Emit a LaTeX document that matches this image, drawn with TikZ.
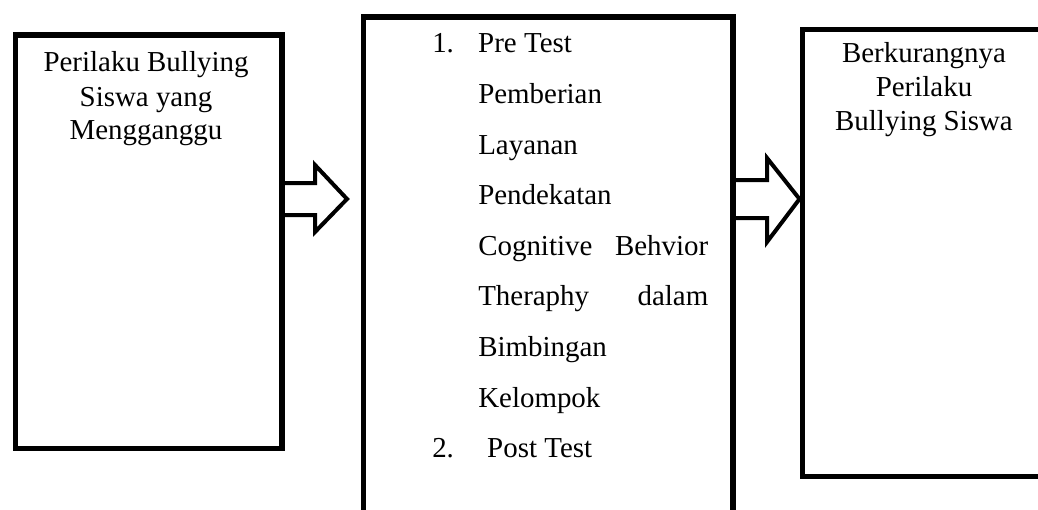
\documentclass[tikz,border=0pt]{standalone}
\usepackage{fontspec}
\setmainfont{Liberation Serif}
\usepackage{tikz}
\usetikzlibrary{calc}
\tikzset{
  kotak/.style={draw,line width=4.1pt,inner sep=0pt,anchor=north west},
  panah/.style={draw,line width=3pt,line join=miter},
  teks/.style={inner sep=0pt,align=flush center,anchor=base,font=\fontsize{21.7}{25.5}\selectfont},
  daftar/.style={inner sep=0pt,align=flush left,text width=207pt,anchor=base west,font=\fontsize{21.7}{37.95}\selectfont}
}
\begin{document}
\begin{tikzpicture}[x=0.75pt,y=-0.75pt]
\clip (0,0) rectangle (1038,510);
\fill[white] (0,0) rectangle (1038,510);
\node[kotak,minimum width=199.9pt,minimum height=310.1pt] (b1) at (12.5,32.5) {};
\node[kotak,minimum width=277.1pt,minimum height=394pt] (b2) at (361,14.5) {};
\node[kotak,minimum width=195.4pt,minimum height=335.25pt] (b3) at (799.5,27) {};
\node[teks,text width=187.5pt] (t1) at (146,72) {Perilaku Bullying\\Siswa yang\\Mengganggu};
\node[daftar] (t2) at (432,53) {\makebox[34.5pt][l]{1.}Pre Test\\
\hspace*{34.5pt}Pemberian\\
\hspace*{34.5pt}Layanan\\
\hspace*{34.5pt}Pendekatan\\
\hspace*{34.5pt}Cognitive\hfill Behvior\\
\hspace*{34.5pt}Theraphy\hfill dalam\\
\hspace*{34.5pt}Bimbingan\\
\hspace*{34.5pt}Kelompok\\
\makebox[41.25pt][l]{2.}Post Test};
\node[teks,text width=165pt] (t3) at (924,63) {Berkurangnya\\Perilaku\\Bullying Siswa};
\draw[panah] (b1.east |- 0,183) -- (315,183) -- (315,165) -- (347,199) -- (315,232) -- (315,215) -- (b1.east |- 0,215);
\draw[panah] (b2.east |- 0,180) -- (767,180) -- (767,158) -- (b3.west |- 0,199) -- (767,242) -- (767,218) -- (b2.east |- 0,218);
\end{tikzpicture}
\end{document}
